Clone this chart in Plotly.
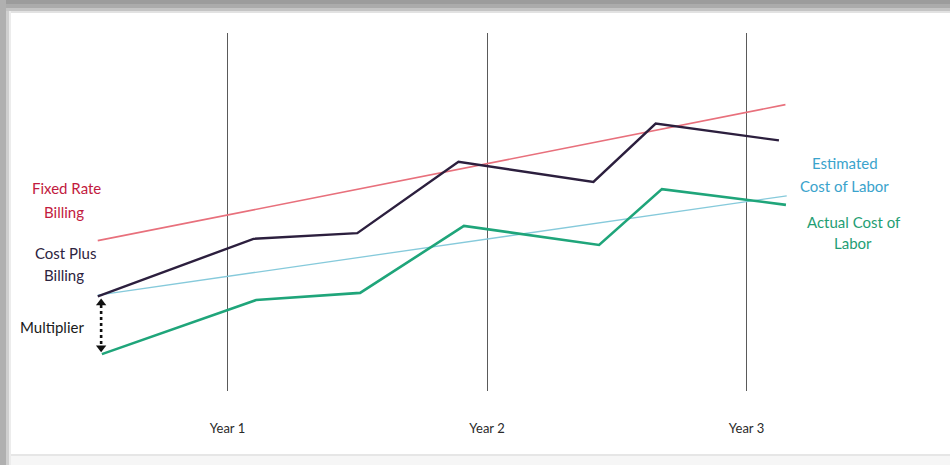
import plotly.graph_objects as go

# ---- data (x in years, y in cost index units) ----
year_ticks = [1, 2, 3]
year_labels = ["Year 1", "Year 2", "Year 3"]

fixed_x = [0.5, 3.15]
fixed_y = [42.0, 80.0]

costplus_x = [0.5, 1.1, 1.5, 1.89, 2.41, 2.65, 3.125]
costplus_y = [26.4, 42.5, 44.1, 64.0, 58.4, 74.7, 70.0]

est_x = [0.5, 3.155]
est_y = [26.8, 54.5]

actual_x = [0.516, 1.11, 1.511, 1.911, 2.432, 2.674, 3.152]
actual_y = [10.3, 25.4, 27.4, 46.1, 40.8, 56.4, 52.0]

FONT = "Lato"

W, H = 950, 465
ML, MR, MT, MB = 0, 0, 33, 74
PH = H - MT - MB


def px(x):
    return x / W


def py(y):
    return (H - MB - y) / PH


fig = go.Figure()

fig.add_trace(go.Scatter(x=fixed_x, y=fixed_y, mode="lines",
                         line=dict(color="#e8707c", width=1.6), hoverinfo="skip"))
fig.add_trace(go.Scatter(x=est_x, y=est_y, mode="lines",
                         line=dict(color="#86cadb", width=1.3), hoverinfo="skip"))
fig.add_trace(go.Scatter(x=costplus_x, y=costplus_y, mode="lines",
                         line=dict(color="#2c1f3e", width=2.4), hoverinfo="skip"))
fig.add_trace(go.Scatter(x=actual_x, y=actual_y, mode="lines",
                         line=dict(color="#1fa57a", width=2.6), hoverinfo="skip"))

# multiplier double arrow (dotted) between cost-plus start and actual start
arr_x = costplus_x[0] + 0.013
fig.add_trace(go.Scatter(x=[arr_x, arr_x], y=[costplus_y[0] - 2.4, actual_y[0] + 2.4],
                         mode="lines", line=dict(color="#111", width=2.6, dash="dot"),
                         hoverinfo="skip"))
fig.add_trace(go.Scatter(x=[arr_x, arr_x], y=[costplus_y[0] - 1.8, actual_y[0] + 1.8],
                         mode="markers",
                         marker=dict(symbol=["triangle-up", "triangle-down"], size=9, color="#111"),
                         hoverinfo="skip"))

# frame
def band(x0, x1, y0, y1, color):
    return dict(type="rect", xref="paper", yref="paper", x0=px(x0), x1=px(x1),
                y0=py(y1), y1=py(y0), fillcolor=color, line=dict(width=0), layer="below")


shapes = [
    band(0, 950, 0, 465, "white"),
    band(0, 950, 0, 4, "#9c9c9c"),
    band(0, 950, 4, 8, "#ababab"),
    band(0, 950, 8, 11, "#c4c4c4"),
    band(0, 950, 11, 13, "#e2e2e2"),
    band(0, 6, 0, 465, "#b0b0b0"),
    band(6, 9, 11, 465, "#cfcfcf"),
    band(9, 11, 11, 465, "#ececec"),
    band(11, 950, 454, 456, "#e6e6e6"),
    band(11, 950, 456, 465, "#f6f6f6"),
]

labels = [
    ("Fixed Rate", 66, 188, "#c21a40"),
    ("Billing", 64, 212, "#c21a40"),
    ("Cost Plus", 65, 253, "#2d2340"),
    ("Billing", 64, 275, "#2d2340"),
    ("Multiplier", 52, 327, "#1a1a1a"),
    ("Estimated", 845, 163, "#3aa3cc"),
    ("Cost of Labor", 844, 186, "#3aa3cc"),
    ("Actual Cost of", 854, 222, "#1f9e74"),
    ("Labor", 853, 243, "#1f9e74"),
]
annotations = [dict(text=t, x=px(x), y=py(y), xref="paper", yref="paper", showarrow=False,
                    xanchor="center", yanchor="middle", font=dict(family=FONT, size=15, color=c))
               for t, x, y, c in labels]

fig.update_layout(
    width=W, height=H,
    margin=dict(l=ML, r=MR, t=MT, b=MB),
    paper_bgcolor="white",
    plot_bgcolor="rgba(0,0,0,0)",
    showlegend=False,
    shapes=shapes,
    annotations=annotations,
    xaxis=dict(range=[0.1233, 3.7842], tickvals=year_ticks, ticktext=year_labels,
               showgrid=True, gridcolor="#5a5a5a", gridwidth=1, zeroline=False, showline=False,
               ticks="", ticklabelstandoff=28,
               tickfont=dict(family=FONT, size=13, color="#2a2a2a")),
    yaxis=dict(range=[0, 100], showgrid=False, zeroline=False, showticklabels=False, showline=False),
)

fig.write_html("out.html")
